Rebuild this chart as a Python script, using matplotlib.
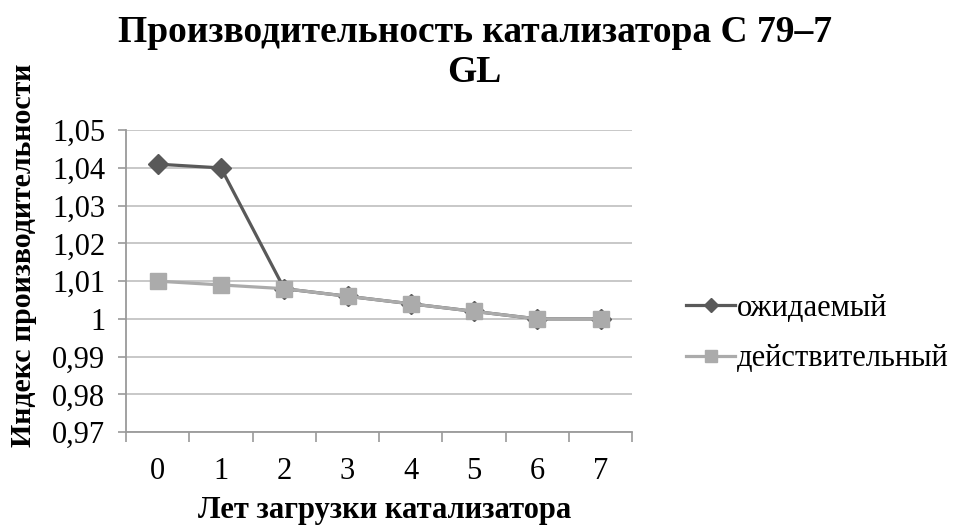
import matplotlib
matplotlib.use("Agg")
import matplotlib.pyplot as plt
from matplotlib.ticker import FixedLocator, FuncFormatter

plt.rcParams['font.family'] = ['Liberation Serif', 'DejaVu Serif']

years = [0, 1, 2, 3, 4, 5, 6, 7]
expected = [1.041, 1.040, 1.008, 1.006, 1.004, 1.002, 1.000, 1.000]
actual = [1.010, 1.009, 1.008, 1.006, 1.004, 1.002, 1.000, 1.000]
series_names = ['ожидаемый', 'действительный']
title = 'Производительность катализатора С 79–7\nGL'
xlabel = 'Лет загрузки катализатора'
ylabel = 'Индекс производительности'
yticks = [0.97, 0.98, 0.99, 1.00, 1.01, 1.02, 1.03, 1.04, 1.05]

fig = plt.figure(figsize=(9.55, 5.27), dpi=100)
ax = fig.add_axes([0.132, 0.180, 0.530, 0.573])

l1, = ax.plot(years, expected, color='#595959', lw=2.3, marker='D', ms=10, zorder=3)
l2, = ax.plot(years, actual, color='#ababab', lw=2.3, marker='s', ms=12, zorder=4)

ax.set_xlim(-0.5, 7.5)
ax.set_ylim(0.97, 1.05)
ax.set_yticks(yticks)

def fmt(v, pos):
    s = ('%.2f' % v).rstrip('0').rstrip('.')
    return s.replace('.', ',')
ax.yaxis.set_major_formatter(FuncFormatter(fmt))
ax.set_xticks(years)
ax.set_xticklabels([str(y) for y in years])
ax.xaxis.set_minor_locator(FixedLocator([i - 0.5 for i in range(9)]))
ax.tick_params(axis='x', which='major', length=0, pad=18, labelsize=22)
ax.tick_params(axis='x', which='minor', length=7, color='#9a9a9a', width=1.2)
ax.tick_params(axis='y', which='major', length=6, color='#9a9a9a', width=1.2, labelsize=22, pad=9)

ax.grid(axis='y', color='#c4c4c4', lw=1.3)
ax.set_axisbelow(True)
for s in ['top', 'right']:
    ax.spines[s].set_visible(False)
for s in ['left', 'bottom']:
    ax.spines[s].set_color('#9a9a9a')
    ax.spines[s].set_linewidth(1.3)

ax.set_xlabel(xlabel, fontsize=22, fontweight='bold')
ax.set_ylabel(ylabel, fontsize=21.5, fontweight='bold')
ax.yaxis.set_label_coords(-0.176, 0.586)
ax.xaxis.set_label_coords(0.51, -0.212)

fig.suptitle(title, fontsize=27, fontweight='bold', x=0.497, y=0.972, linespacing=1.2)

fig.legend([l1, l2], series_names, loc='center left', bbox_to_anchor=(0.69, 0.367),
           frameon=False, fontsize=22, handlelength=1.6, handletextpad=0.05,
           labelspacing=0.7, markerscale=0.75)

fig.savefig('out.png', dpi=100)
